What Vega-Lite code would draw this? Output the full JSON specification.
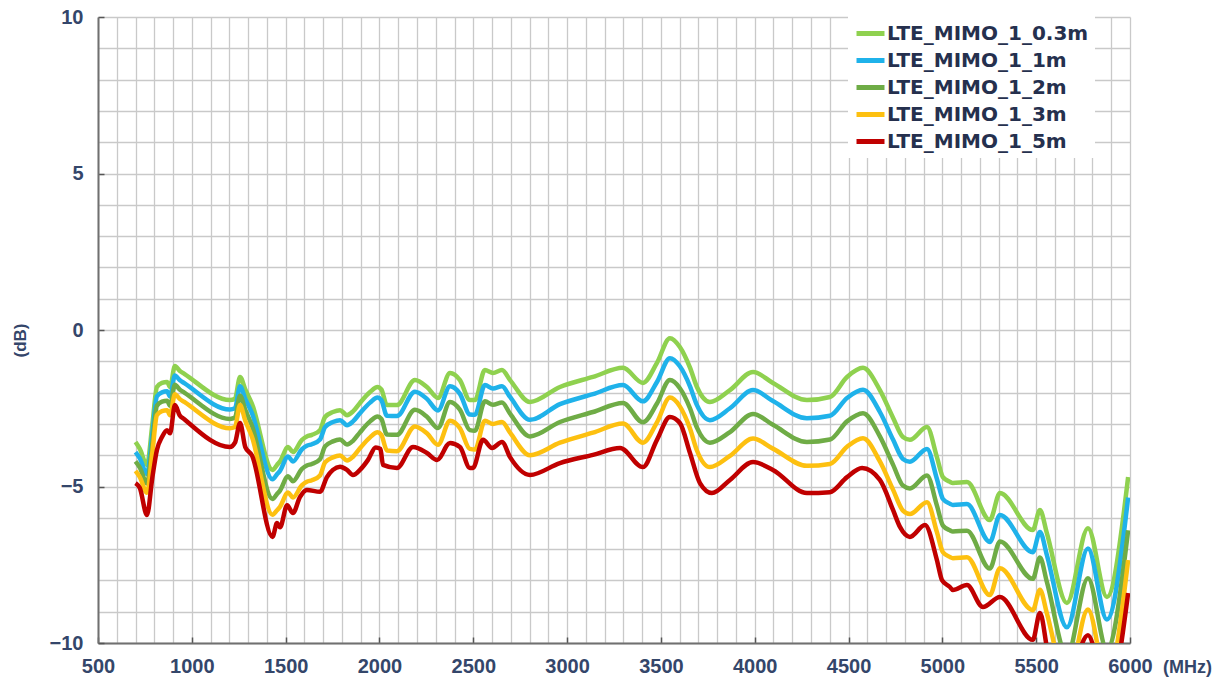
{
"$schema": "https://vega.github.io/schema/vega-lite/v6.json",
"width": 1032, "height": 626,
"autosize": "none",
"padding": {"left": 98, "top": 17, "right": 93, "bottom": 41},
"background": "white",
"config": {"view": {"stroke": null}},
"datasets": {
"m03": [{"f":700,"v":-3.58},{"f":723,"v":-3.8},{"f":761,"v":-4.31},{"f":790,"v":-3.0},{"f":814,"v":-1.82},{"f":841,"v":-1.69},{"f":868,"v":-1.66},{"f":884,"v":-1.82},{"f":910,"v":-1.15},{"f":935,"v":-1.3},{"f":960,"v":-1.4},{"f":1203,"v":-2.24},{"f":1230,"v":-2.2},{"f":1257,"v":-1.5},{"f":1285,"v":-1.9},{"f":1320,"v":-2.35},{"f":1430,"v":-4.47},{"f":1454,"v":-4.31},{"f":1470,"v":-4.2},{"f":1513,"v":-3.74},{"f":1539,"v":-3.9},{"f":1587,"v":-3.51},{"f":1613,"v":-3.4},{"f":1640,"v":-3.35},{"f":1683,"v":-3.2},{"f":1710,"v":-2.78},{"f":1752,"v":-2.62},{"f":1790,"v":-2.56},{"f":1827,"v":-2.72},{"f":1859,"v":-2.6},{"f":1896,"v":-2.33},{"f":1950,"v":-1.98},{"f":1990,"v":-1.82},{"f":2010,"v":-1.9},{"f":2040,"v":-2.4},{"f":2093,"v":-2.4},{"f":2189,"v":-1.6},{"f":2253,"v":-1.82},{"f":2312,"v":-2.17},{"f":2376,"v":-1.37},{"f":2429,"v":-1.6},{"f":2482,"v":-2.24},{"f":2509,"v":-2.24},{"f":2562,"v":-1.28},{"f":2605,"v":-1.37},{"f":2653,"v":-1.28},{"f":2696,"v":-1.6},{"f":2802,"v":-2.3},{"f":2962,"v":-1.82},{"f":3138,"v":-1.5},{"f":3298,"v":-1.21},{"f":3404,"v":-1.69},{"f":3479,"v":-1.05},{"f":3548,"v":-0.26},{"f":3601,"v":-0.54},{"f":3655,"v":-1.2},{"f":3692,"v":-1.82},{"f":3761,"v":-2.3},{"f":3868,"v":-1.92},{"f":3991,"v":-1.34},{"f":4097,"v":-1.69},{"f":4278,"v":-2.24},{"f":4401,"v":-2.14},{"f":4492,"v":-1.5},{"f":4577,"v":-1.21},{"f":4667,"v":-1.92},{"f":4737,"v":-2.8},{"f":4790,"v":-3.42},{"f":4827,"v":-3.51},{"f":4918,"v":-3.1},{"f":4971,"v":-4.06},{"f":5003,"v":-4.7},{"f":5040,"v":-4.85},{"f":5056,"v":-4.89},{"f":5131,"v":-4.86},{"f":5253,"v":-6.07},{"f":5307,"v":-5.21},{"f":5482,"v":-6.39},{"f":5520,"v":-5.75},{"f":5557,"v":-6.49},{"f":5664,"v":-8.72},{"f":5776,"v":-6.33},{"f":5877,"v":-8.53},{"f":5990,"v":-4.7}],
"m1": [{"f":700,"v":-3.9},{"f":723,"v":-4.1},{"f":761,"v":-4.6},{"f":790,"v":-3.3},{"f":814,"v":-2.12},{"f":841,"v":-1.99},{"f":868,"v":-1.96},{"f":884,"v":-2.12},{"f":910,"v":-1.45},{"f":935,"v":-1.6},{"f":960,"v":-1.7},{"f":1203,"v":-2.54},{"f":1230,"v":-2.5},{"f":1257,"v":-1.8},{"f":1285,"v":-2.2},{"f":1320,"v":-2.65},{"f":1430,"v":-4.77},{"f":1454,"v":-4.61},{"f":1470,"v":-4.5},{"f":1513,"v":-4.04},{"f":1539,"v":-4.2},{"f":1587,"v":-3.81},{"f":1613,"v":-3.7},{"f":1640,"v":-3.65},{"f":1683,"v":-3.5},{"f":1710,"v":-3.1},{"f":1752,"v":-2.94},{"f":1790,"v":-2.88},{"f":1827,"v":-3.04},{"f":1859,"v":-2.92},{"f":1896,"v":-2.66},{"f":1950,"v":-2.32},{"f":1990,"v":-2.16},{"f":2010,"v":-2.24},{"f":2040,"v":-2.74},{"f":2093,"v":-2.75},{"f":2189,"v":-1.97},{"f":2253,"v":-2.2},{"f":2312,"v":-2.57},{"f":2376,"v":-1.8},{"f":2429,"v":-2.04},{"f":2482,"v":-2.7},{"f":2509,"v":-2.71},{"f":2562,"v":-1.76},{"f":2605,"v":-1.87},{"f":2653,"v":-1.8},{"f":2696,"v":-2.14},{"f":2802,"v":-2.87},{"f":2962,"v":-2.37},{"f":3138,"v":-2.05},{"f":3298,"v":-1.76},{"f":3404,"v":-2.28},{"f":3479,"v":-1.66},{"f":3548,"v":-0.9},{"f":3601,"v":-1.16},{"f":3655,"v":-1.8},{"f":3692,"v":-2.4},{"f":3761,"v":-2.88},{"f":3868,"v":-2.5},{"f":3991,"v":-1.92},{"f":4097,"v":-2.27},{"f":4278,"v":-2.82},{"f":4401,"v":-2.74},{"f":4492,"v":-2.17},{"f":4577,"v":-1.91},{"f":4667,"v":-2.62},{"f":4737,"v":-3.5},{"f":4790,"v":-4.12},{"f":4827,"v":-4.21},{"f":4918,"v":-3.8},{"f":4971,"v":-4.76},{"f":5003,"v":-5.4},{"f":5040,"v":-5.55},{"f":5056,"v":-5.59},{"f":5131,"v":-5.56},{"f":5253,"v":-6.77},{"f":5307,"v":-5.91},{"f":5482,"v":-7.1},{"f":5520,"v":-6.45},{"f":5557,"v":-7.19},{"f":5664,"v":-9.5},{"f":5776,"v":-6.98},{"f":5877,"v":-9.25},{"f":5990,"v":-5.35}],
"m2": [{"f":700,"v":-4.2},{"f":723,"v":-4.4},{"f":761,"v":-4.9},{"f":790,"v":-3.6},{"f":814,"v":-2.42},{"f":841,"v":-2.29},{"f":868,"v":-2.26},{"f":884,"v":-2.42},{"f":910,"v":-1.75},{"f":935,"v":-1.9},{"f":960,"v":-2.0},{"f":1203,"v":-2.84},{"f":1230,"v":-2.8},{"f":1257,"v":-2.1},{"f":1285,"v":-2.55},{"f":1320,"v":-3.05},{"f":1430,"v":-5.4},{"f":1454,"v":-5.24},{"f":1470,"v":-5.13},{"f":1513,"v":-4.67},{"f":1539,"v":-4.83},{"f":1587,"v":-4.44},{"f":1613,"v":-4.33},{"f":1640,"v":-4.28},{"f":1683,"v":-4.13},{"f":1710,"v":-3.72},{"f":1752,"v":-3.56},{"f":1790,"v":-3.5},{"f":1827,"v":-3.66},{"f":1859,"v":-3.54},{"f":1896,"v":-3.27},{"f":1950,"v":-2.92},{"f":1990,"v":-2.76},{"f":2010,"v":-2.84},{"f":2040,"v":-3.34},{"f":2093,"v":-3.35},{"f":2189,"v":-2.55},{"f":2253,"v":-2.77},{"f":2312,"v":-3.13},{"f":2376,"v":-2.3},{"f":2429,"v":-2.55},{"f":2482,"v":-3.2},{"f":2509,"v":-3.22},{"f":2562,"v":-2.28},{"f":2605,"v":-2.39},{"f":2653,"v":-2.32},{"f":2696,"v":-2.67},{"f":2802,"v":-3.4},{"f":2962,"v":-2.94},{"f":3138,"v":-2.62},{"f":3298,"v":-2.33},{"f":3404,"v":-2.95},{"f":3479,"v":-2.35},{"f":3548,"v":-1.6},{"f":3601,"v":-1.86},{"f":3655,"v":-2.5},{"f":3692,"v":-3.12},{"f":3761,"v":-3.6},{"f":3868,"v":-3.26},{"f":3991,"v":-2.68},{"f":4097,"v":-3.03},{"f":4278,"v":-3.58},{"f":4401,"v":-3.5},{"f":4492,"v":-2.92},{"f":4577,"v":-2.66},{"f":4667,"v":-3.4},{"f":4737,"v":-4.3},{"f":4790,"v":-4.97},{"f":4827,"v":-5.06},{"f":4918,"v":-4.65},{"f":4971,"v":-5.61},{"f":5003,"v":-6.25},{"f":5040,"v":-6.4},{"f":5056,"v":-6.44},{"f":5131,"v":-6.41},{"f":5253,"v":-7.62},{"f":5307,"v":-6.76},{"f":5482,"v":-7.95},{"f":5520,"v":-7.27},{"f":5557,"v":-8.05},{"f":5664,"v":-10.4},{"f":5776,"v":-7.93},{"f":5877,"v":-10.2},{"f":5990,"v":-6.4}],
"m3": [{"f":700,"v":-4.5},{"f":723,"v":-4.7},{"f":761,"v":-5.2},{"f":790,"v":-3.9},{"f":814,"v":-2.72},{"f":841,"v":-2.59},{"f":868,"v":-2.56},{"f":884,"v":-2.72},{"f":910,"v":-2.05},{"f":935,"v":-2.2},{"f":960,"v":-2.3},{"f":1203,"v":-3.14},{"f":1230,"v":-3.1},{"f":1257,"v":-2.4},{"f":1285,"v":-2.9},{"f":1320,"v":-3.4},{"f":1430,"v":-5.9},{"f":1454,"v":-5.76},{"f":1470,"v":-5.65},{"f":1513,"v":-5.19},{"f":1539,"v":-5.35},{"f":1587,"v":-4.96},{"f":1613,"v":-4.85},{"f":1640,"v":-4.8},{"f":1683,"v":-4.65},{"f":1710,"v":-4.23},{"f":1752,"v":-4.07},{"f":1790,"v":-4.01},{"f":1827,"v":-4.17},{"f":1859,"v":-4.05},{"f":1896,"v":-3.78},{"f":1950,"v":-3.43},{"f":1990,"v":-3.27},{"f":2010,"v":-3.35},{"f":2040,"v":-3.85},{"f":2093,"v":-3.87},{"f":2189,"v":-3.08},{"f":2253,"v":-3.3},{"f":2312,"v":-3.67},{"f":2376,"v":-2.9},{"f":2429,"v":-3.14},{"f":2482,"v":-3.8},{"f":2509,"v":-3.82},{"f":2562,"v":-2.9},{"f":2605,"v":-3.0},{"f":2653,"v":-2.94},{"f":2696,"v":-3.28},{"f":2802,"v":-4.0},{"f":2962,"v":-3.6},{"f":3138,"v":-3.28},{"f":3298,"v":-2.99},{"f":3404,"v":-3.6},{"f":3479,"v":-2.95},{"f":3548,"v":-2.16},{"f":3601,"v":-2.44},{"f":3655,"v":-3.15},{"f":3692,"v":-3.85},{"f":3761,"v":-4.38},{"f":3868,"v":-4.02},{"f":3991,"v":-3.47},{"f":4097,"v":-3.79},{"f":4278,"v":-4.34},{"f":4401,"v":-4.28},{"f":4492,"v":-3.73},{"f":4577,"v":-3.46},{"f":4667,"v":-4.2},{"f":4737,"v":-5.1},{"f":4790,"v":-5.77},{"f":4827,"v":-5.88},{"f":4918,"v":-5.5},{"f":4971,"v":-6.46},{"f":5003,"v":-7.1},{"f":5040,"v":-7.25},{"f":5056,"v":-7.29},{"f":5131,"v":-7.26},{"f":5253,"v":-8.47},{"f":5307,"v":-7.61},{"f":5482,"v":-8.95},{"f":5520,"v":-8.3},{"f":5557,"v":-9.05},{"f":5664,"v":-11.3},{"f":5776,"v":-8.93},{"f":5877,"v":-11.2},{"f":5990,"v":-7.35}],
"m5": [{"f":700,"v":-4.89},{"f":723,"v":-5.05},{"f":761,"v":-5.91},{"f":790,"v":-4.7},{"f":814,"v":-3.83},{"f":841,"v":-3.42},{"f":868,"v":-3.2},{"f":884,"v":-3.3},{"f":910,"v":-2.4},{"f":935,"v":-2.72},{"f":960,"v":-2.85},{"f":1203,"v":-3.74},{"f":1230,"v":-3.6},{"f":1257,"v":-2.97},{"f":1285,"v":-3.74},{"f":1320,"v":-4.0},{"f":1430,"v":-6.61},{"f":1454,"v":-6.17},{"f":1470,"v":-6.3},{"f":1508,"v":-5.6},{"f":1539,"v":-5.85},{"f":1576,"v":-5.34},{"f":1613,"v":-5.11},{"f":1683,"v":-5.17},{"f":1720,"v":-4.7},{"f":1752,"v":-4.47},{"f":1790,"v":-4.37},{"f":1827,"v":-4.47},{"f":1859,"v":-4.63},{"f":1896,"v":-4.47},{"f":1939,"v":-4.15},{"f":1980,"v":-3.75},{"f":2005,"v":-3.8},{"f":2019,"v":-4.31},{"f":2093,"v":-4.41},{"f":2179,"v":-3.74},{"f":2253,"v":-3.93},{"f":2307,"v":-4.15},{"f":2376,"v":-3.61},{"f":2429,"v":-3.74},{"f":2482,"v":-4.41},{"f":2498,"v":-4.41},{"f":2552,"v":-3.51},{"f":2600,"v":-3.77},{"f":2653,"v":-3.58},{"f":2696,"v":-4.06},{"f":2802,"v":-4.63},{"f":2962,"v":-4.25},{"f":3138,"v":-3.99},{"f":3282,"v":-3.77},{"f":3404,"v":-4.38},{"f":3479,"v":-3.51},{"f":3548,"v":-2.78},{"f":3601,"v":-2.97},{"f":3655,"v":-3.93},{"f":3708,"v":-4.89},{"f":3772,"v":-5.21},{"f":3868,"v":-4.79},{"f":3991,"v":-4.22},{"f":4097,"v":-4.47},{"f":4278,"v":-5.21},{"f":4401,"v":-5.18},{"f":4492,"v":-4.7},{"f":4572,"v":-4.41},{"f":4667,"v":-4.79},{"f":4737,"v":-5.75},{"f":4774,"v":-6.29},{"f":4827,"v":-6.61},{"f":4907,"v":-6.23},{"f":4971,"v":-7.35},{"f":4998,"v":-7.99},{"f":5040,"v":-8.21},{"f":5056,"v":-8.31},{"f":5131,"v":-8.15},{"f":5216,"v":-8.85},{"f":5307,"v":-8.53},{"f":5482,"v":-9.9},{"f":5520,"v":-9.04},{"f":5562,"v":-10.3},{"f":5640,"v":-11.8},{"f":5776,"v":-9.75},{"f":5880,"v":-11.8},{"f":5990,"v":-8.4}]
},
"encoding": {
  "x": {"field": "f", "type": "quantitative",
    "scale": {"domain": [500, 6000], "nice": false, "zero": false},
    "axis": {
      "values": [500,600,700,800,900,1000,1100,1200,1300,1400,1500,1600,1700,1800,1900,2000,2100,2200,2300,2400,2500,2600,2700,2800,2900,3000,3100,3200,3300,3400,3500,3600,3700,3800,3900,4000,4100,4200,4300,4400,4500,4600,4700,4800,4900,5000,5100,5200,5300,5400,5500,5600,5700,5800,5900,6000],
      "format": "d",
      "labelExpr": "datum.value % 500 === 0 ? datum.label : ''",
      "labelOverlap": false, "labelFlush": false, "labelBound": false,
      "grid": true, "gridColor": "#c9c9c9", "gridWidth": 1.3,
      "ticks": true, "tickSize": -6, "tickWidth": 1.5,
      "tickColor": {"condition": {"test": "datum.value % 500 === 0", "value": "#555555"}, "value": "transparent"},
      "domainColor": "#707070", "domainWidth": 2,
      "labelFont": "Liberation Sans", "labelFontWeight": "bold", "labelFontSize": 20, "labelColor": "#34466a", "labelPadding": 19,
      "title": "(MHz)", "titleX": 1089, "titleY": 24, "titleAlign": "center", "titleBaseline": "middle",
      "titleFont": "Liberation Sans", "titleFontWeight": "bold", "titleFontSize": 18, "titleColor": "#34466a"
    }},
  "y": {"field": "v", "type": "quantitative",
    "scale": {"domain": [-10, 10], "nice": false, "zero": false},
    "axis": {
      "values": [-10,-9,-8,-7,-6,-5,-4,-3,-2,-1,0,1,2,3,4,5,6,7,8,9,10],
      "labelExpr": "datum.value % 5 === 0 ? datum.label : ''",
      "labelOverlap": false, "labelFlush": false, "labelBound": false,
      "grid": true, "gridColor": "#c9c9c9", "gridWidth": 1.3,
      "ticks": true, "tickSize": -6, "tickWidth": 1.5,
      "tickColor": {"condition": {"test": "datum.value % 5 === 0", "value": "#555555"}, "value": "transparent"},
      "domainColor": "#707070", "domainWidth": 2,
      "labelFont": "Liberation Sans", "labelFontWeight": "bold", "labelFontSize": 20, "labelColor": "#34466a", "labelPadding": 21,
      "title": "(dB)", "titleX": -78, "titleY": 323, "titleAngle": -90, "titleAlign": "center", "titleBaseline": "middle",
      "titleFont": "Liberation Sans", "titleFontWeight": "bold", "titleFontSize": 17, "titleColor": "#34466a"
    }}
},
"layer": [
  {"data": {"name": "m03"}, "mark": {"type": "line", "strokeWidth": 4.5, "interpolate": "monotone", "clip": true},
   "encoding": {"color": {"datum": "LTE_MIMO_1_0.3m",
     "scale": {"domain": ["LTE_MIMO_1_0.3m","LTE_MIMO_1_1m","LTE_MIMO_1_2m","LTE_MIMO_1_3m","LTE_MIMO_1_5m"],
               "range": ["#8fd14f","#1fb2ea","#6fac46","#fdc010","#c00000"]},
     "legend": {"title": null, "orient": "none", "legendX": 750, "legendY": -6, "fillColor": "white", "padding": 6,
       "symbolType": "stroke", "symbolStrokeWidth": 5, "symbolSize": 784, "labelOffset": 0, "rowPadding": -3,
       "labelFont": "DejaVu Sans", "labelFontWeight": "bold", "labelFontSize": 20, "labelColor": "#25304e", "labelLimit": 400}}}},
  {"data": {"name": "m1"}, "mark": {"type": "line", "strokeWidth": 4.5, "interpolate": "monotone", "clip": true},
   "encoding": {"color": {"datum": "LTE_MIMO_1_1m"}}},
  {"data": {"name": "m2"}, "mark": {"type": "line", "strokeWidth": 4.5, "interpolate": "monotone", "clip": true},
   "encoding": {"color": {"datum": "LTE_MIMO_1_2m"}}},
  {"data": {"name": "m3"}, "mark": {"type": "line", "strokeWidth": 4.5, "interpolate": "monotone", "clip": true},
   "encoding": {"color": {"datum": "LTE_MIMO_1_3m"}}},
  {"data": {"name": "m5"}, "mark": {"type": "line", "strokeWidth": 4.5, "interpolate": "monotone", "clip": true},
   "encoding": {"color": {"datum": "LTE_MIMO_1_5m"}}}
]
}
